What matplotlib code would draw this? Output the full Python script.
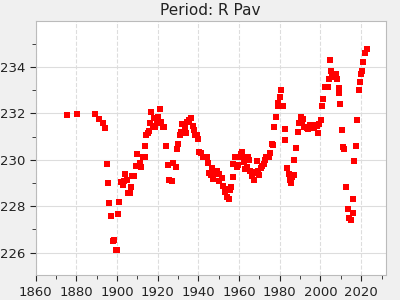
import matplotlib.pyplot as plt
from matplotlib.ticker import MultipleLocator

# Observed period of R Pav (days) by year
years = [1875.6, 1880.5, 1889.3, 1891.3, 1893.1, 1894.3, 1895.2, 1895.7, 1896.2, 1897.2,
         1897.9, 1898.7, 1899.3, 1900.2, 1900.7, 1901.1, 1902.0, 1902.8, 1903.3, 1904.1,
         1904.9, 1905.6, 1906.6, 1906.9, 1907.5, 1908.2, 1909.3, 1910.0, 1910.8, 1911.3,
         1912.0, 1912.6, 1913.6, 1913.9, 1914.3, 1915.1, 1915.9, 1916.2, 1916.9, 1917.5,
         1918.4, 1918.9, 1919.5, 1920.2, 1921.0, 1920.8, 1921.8, 1922.5, 1923.1, 1924.3,
         1924.9, 1925.7, 1927.0, 1927.5, 1928.9, 1929.7, 1930.2, 1931.0, 1931.6, 1932.1,
         1933.0, 1933.6, 1934.1, 1934.4, 1935.3, 1936.2, 1937.4, 1937.9, 1938.5, 1939.3,
         1940.0, 1940.5, 1941.1, 1942.1, 1943.1, 1944.4, 1944.9, 1945.4, 1946.4, 1946.9,
         1947.4, 1948.4, 1949.3, 1950.0, 1950.3, 1951.6, 1952.3, 1953.1, 1953.6, 1954.1,
         1954.9, 1955.6, 1956.2, 1956.9, 1957.2, 1958.2, 1958.9, 1959.3, 1960.2, 1960.8,
         1961.6, 1962.1, 1962.6, 1963.1, 1963.8, 1964.6, 1965.1, 1965.4, 1966.1, 1966.7,
         1967.5, 1968.0, 1969.0, 1969.5, 1970.0, 1970.7, 1971.5, 1972.0, 1972.5, 1973.0,
         1973.6, 1974.6, 1975.4, 1976.1, 1976.9, 1977.2, 1978.2, 1978.9, 1979.3, 1980.2,
         1980.8, 1981.8, 1982.5, 1982.8, 1983.5, 1984.3, 1985.0, 1985.3, 1986.0, 1986.9,
         1987.2, 1988.0, 1988.9, 1989.3, 1990.2, 1990.8, 1991.5, 1992.0, 1992.8, 1993.4,
         1994.1, 1994.8, 1995.4, 1996.4, 1997.0, 1997.7, 1998.4, 1998.9, 1999.5, 2000.2,
         2000.8, 2001.3, 2002.1, 2002.9, 2003.6, 2004.4, 2004.9, 2005.4, 2005.9, 2006.6,
         2007.4, 2008.2, 2008.9, 2009.2, 2009.7, 2010.5, 2011.1, 2011.6, 2012.3, 2013.3,
         2013.8, 2015.1, 2015.8, 2016.2, 2016.7, 2017.5, 2018.0, 2018.7, 2019.5, 2020.1,
         2020.6, 2021.1, 2022.1, 2022.8]
periods = [231.91, 231.96, 231.96, 231.74, 231.60, 231.35, 229.80, 228.98, 228.16, 227.60,
           226.50, 226.56, 226.10, 226.13, 227.68, 228.20, 229.05, 228.90, 229.08, 229.41,
           229.12, 228.55, 228.55, 228.83, 229.30, 229.30, 229.73, 230.24, 229.74, 229.87,
           229.70, 230.10, 230.10, 230.59, 231.09, 231.14, 231.25, 231.60, 232.04, 231.45,
           231.78, 231.41, 231.64, 231.83, 232.17, 231.60, 231.64, 231.42, 231.42, 230.59,
           229.76, 229.15, 229.08, 229.88, 229.67, 230.46, 230.70, 231.08, 231.20, 231.53,
           231.20, 231.42, 231.14, 231.63, 231.70, 231.78, 231.45, 231.28, 231.06, 231.06,
           230.88, 230.35, 230.30, 230.13, 230.13, 230.10, 229.87, 229.45, 229.34, 229.63,
           229.17, 229.41, 229.52, 229.41, 229.08, 229.20, 228.86, 228.62, 228.73, 228.40,
           228.29, 228.72, 228.83, 229.27, 229.84, 230.10, 229.70, 229.77, 230.13, 230.24,
           230.33, 230.13, 229.91, 229.61, 229.67, 230.13, 230.01, 229.51, 229.30, 229.48,
           229.15, 229.45, 229.93, 229.51, 229.34, 229.63, 229.74, 229.81, 229.99, 230.13,
           230.13, 230.13, 230.30, 230.70, 230.63, 231.40, 231.83, 232.32, 232.46, 232.72,
           233.00, 232.32, 231.31, 230.85, 229.63, 229.38, 229.12, 229.02, 229.27, 229.34,
           230.01, 230.53, 231.18, 231.57, 231.83, 231.57, 231.77, 231.42, 231.42, 231.35,
           231.31, 231.50, 231.42, 231.35, 231.42, 231.50, 231.45, 231.14, 231.54, 231.71,
           232.32, 232.60, 233.15, 233.12, 233.15, 233.47, 234.29, 233.84, 233.58, 233.61,
           233.70, 233.47, 233.08, 232.86, 232.39, 231.28, 230.56, 230.45, 228.81, 227.90,
           227.51, 227.40, 227.71, 228.29, 229.96, 230.60, 231.71, 233.00, 233.34, 233.70,
           233.84, 234.23, 234.62, 234.76]

fig = plt.figure(figsize=(4, 3), dpi=100, facecolor="#f0f0f0")
ax = fig.add_axes([0.089, 0.082, 0.875, 0.848])
ax.set_facecolor("white")

ax.scatter(years, periods, marker="s", s=16, color="#ff0000", linewidths=0, zorder=3)

ax.set_xlim(1860, 2032)
ax.set_ylim(225.02, 235.98)
ax.xaxis.set_major_locator(MultipleLocator(20))
ax.xaxis.set_minor_locator(MultipleLocator(10))
ax.yaxis.set_major_locator(MultipleLocator(2))
ax.yaxis.set_minor_locator(MultipleLocator(1))

ax.grid(axis="x", which="major", color="#dddddd", linestyle="--", linewidth=0.8)
ax.grid(axis="y", which="major", color="#dddddd", linestyle="-", linewidth=0.8)
ax.set_axisbelow(True)

for s in ax.spines.values():
    s.set_color("#bbbbbb")
ax.tick_params(which="both", direction="out", colors="#222222", labelsize=9.5)
ax.tick_params(which="major", length=4)
ax.tick_params(which="minor", length=3)

ax.set_title("Period: R Pav", fontsize=11, color="#222222", pad=4)

fig.savefig("out.png", dpi=100, facecolor=fig.get_facecolor())
